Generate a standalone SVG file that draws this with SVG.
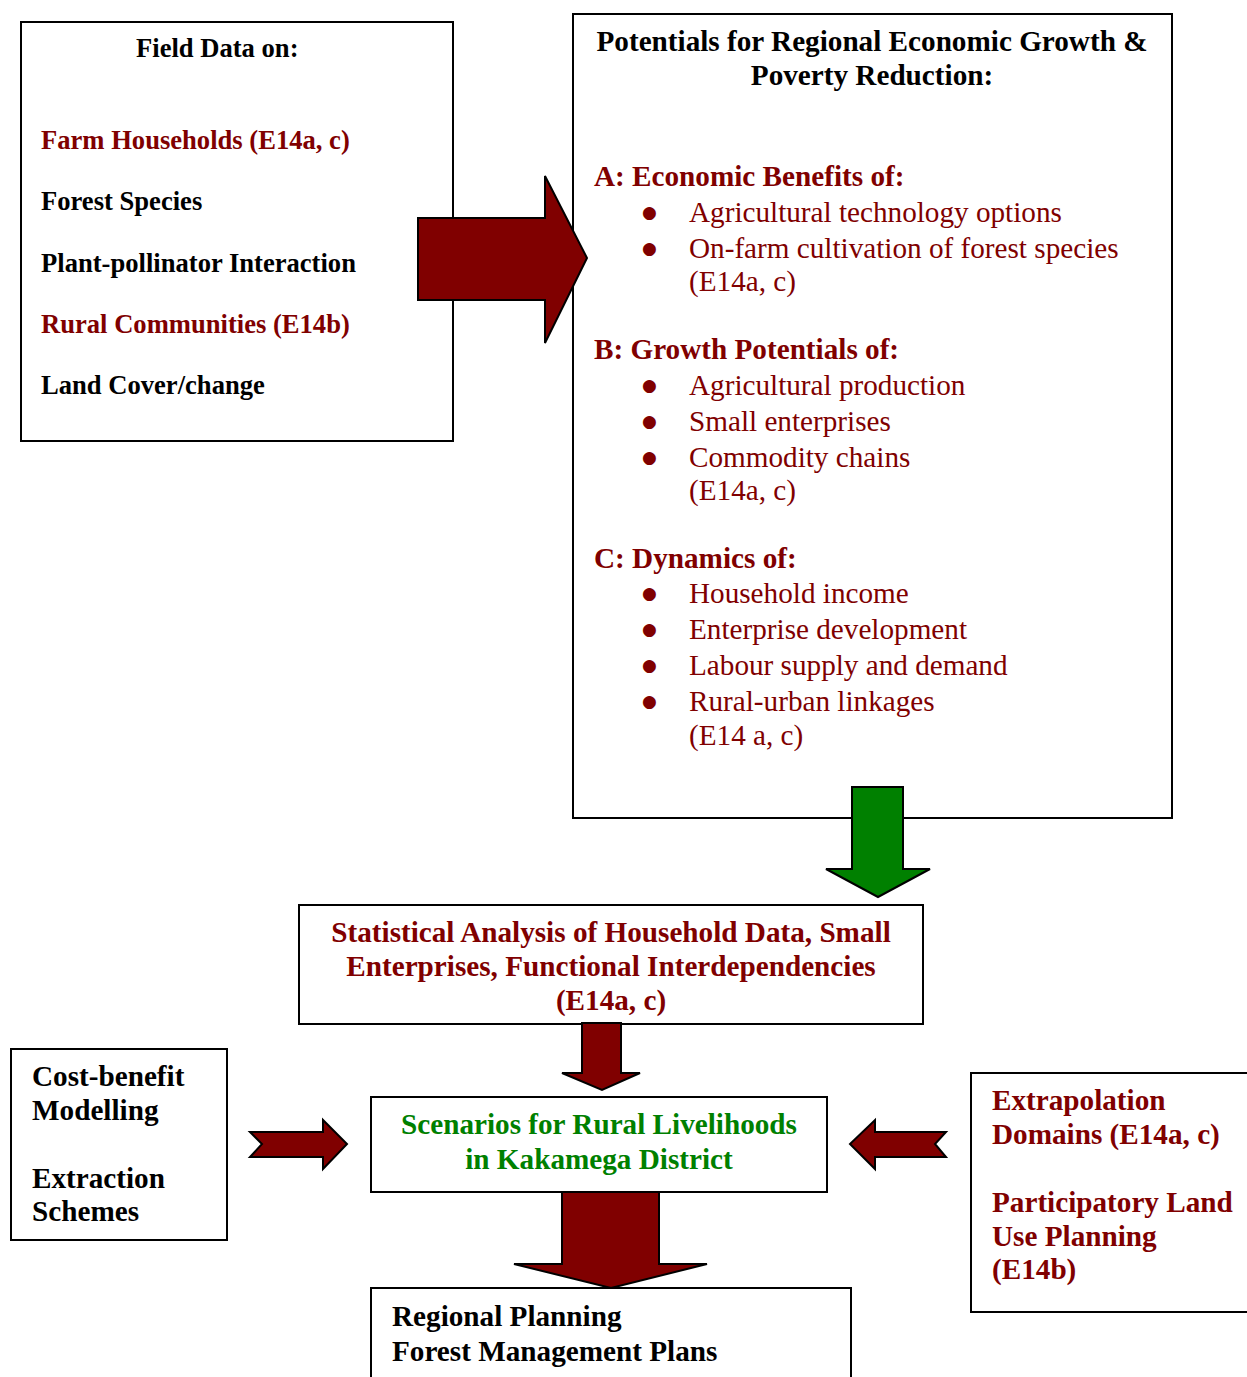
<svg xmlns="http://www.w3.org/2000/svg" width="1247" height="1377" viewBox="0 0 1247 1377">
<style>
.box{fill:#fff;stroke:#000;stroke-width:2}
.t{font-family:"Liberation Serif","Times New Roman",serif;font-size:29.2px}
.b{font-weight:bold}
.s{font-size:26.6px}
.bul{font-family:"DejaVu Sans",sans-serif;font-size:17px;fill:#800000}
.red{fill:#800000}
.blk{fill:#000}
.grn{fill:#008000}
.arr{fill:#800000;stroke:#000;stroke-width:2;stroke-linejoin:miter}
.garr{fill:#008000;stroke:#000;stroke-width:2}
</style>
<rect width="1247" height="1377" fill="#fff"/>
<g id="field-data">
<rect class="box" x="21" y="22" width="432" height="419"/>
<text class="t b s blk" x="136" y="57">Field Data on:</text>
<text class="t b s red" x="41" y="149">Farm Households (E14a, c)</text>
<text class="t b s blk" x="41" y="210">Forest Species</text>
<text class="t b s blk" x="41" y="272">Plant-pollinator Interaction</text>
<text class="t b s red" x="41" y="333">Rural Communities (E14b)</text>
<text class="t b s blk" x="41" y="394">Land Cover/change</text>
</g>
<g id="potentials">
<rect class="box" x="573" y="14" width="599" height="804"/>
<text class="t b blk" x="872" y="51" text-anchor="middle">Potentials for Regional Economic Growth &amp;</text>
<text class="t b blk" x="872" y="85" text-anchor="middle">Poverty Reduction:</text>
<text class="t b red" x="594" y="186">A: Economic Benefits of:</text>
<text class="bul" x="642" y="218">●</text>
<text class="t red" x="689" y="222">Agricultural technology options</text>
<text class="bul" x="642" y="254">●</text>
<text class="t red" x="689" y="258">On-farm cultivation of forest species</text>
<text class="t red" x="689" y="291">(E14a, c)</text>
<text class="t b red" x="594" y="359">B: Growth Potentials of:</text>
<text class="bul" x="642" y="391">●</text>
<text class="t red" x="689" y="395">Agricultural production</text>
<text class="bul" x="642" y="427">●</text>
<text class="t red" x="689" y="431">Small enterprises</text>
<text class="bul" x="642" y="463">●</text>
<text class="t red" x="689" y="467">Commodity chains</text>
<text class="t red" x="689" y="500">(E14a, c)</text>
<text class="t b red" x="594" y="568">C: Dynamics of:</text>
<text class="bul" x="642" y="599">●</text>
<text class="t red" x="689" y="603">Household income</text>
<text class="bul" x="642" y="635">●</text>
<text class="t red" x="689" y="639">Enterprise development</text>
<text class="bul" x="642" y="671">●</text>
<text class="t red" x="689" y="675">Labour supply and demand</text>
<text class="bul" x="642" y="707">●</text>
<text class="t red" x="689" y="711">Rural-urban linkages</text>
<text class="t red" x="689" y="745">(E14 a, c)</text>
</g>
<g id="statistical">
<rect class="box" x="299" y="905" width="624" height="119"/>
<text class="t b red" x="611" y="942" text-anchor="middle">Statistical Analysis of Household Data, Small</text>
<text class="t b red" x="611" y="976" text-anchor="middle">Enterprises, Functional Interdependencies</text>
<text class="t b red" x="611" y="1010" text-anchor="middle">(E14a, c)</text>
</g>
<g id="cost-benefit">
<rect class="box" x="11" y="1049" width="216" height="191"/>
<text class="t b blk" x="32" y="1086">Cost-benefit</text>
<text class="t b blk" x="32" y="1120">Modelling</text>
<text class="t b blk" x="32" y="1188">Extraction</text>
<text class="t b blk" x="32" y="1221">Schemes</text>
</g>
<g id="scenarios">
<rect class="box" x="371" y="1097" width="456" height="95"/>
<text class="t b grn" x="599" y="1134" text-anchor="middle">Scenarios for Rural Livelihoods</text>
<text class="t b grn" x="599" y="1169" text-anchor="middle">in Kakamega District</text>
</g>
<g id="extrapolation">
<rect class="box" x="971" y="1073" width="290" height="239"/>
<text class="t b red" x="992" y="1110">Extrapolation</text>
<text class="t b red" x="992" y="1144">Domains (E14a, c)</text>
<text class="t b red" x="992" y="1212">Participatory Land</text>
<text class="t b red" x="992" y="1246">Use Planning</text>
<text class="t b red" x="992" y="1279">(E14b)</text>
</g>
<g id="planning">
<rect class="box" x="371" y="1288" width="480" height="120"/>
<text class="t b blk" x="392" y="1326">Regional Planning</text>
<text class="t b blk" x="392" y="1361">Forest Management Plans</text>
</g>
<g id="connectors">
<polygon class="arr" points="418,218 545,218 545,176 587,258 545,343 545,300 418,300"/>
<polygon class="garr" points="852,787 903,787 903,869 930,869 878,897 826,869 852,869"/>
<polygon class="arr" points="582,1023 621,1023 621,1073 640,1073 602,1090 562,1073 582,1073"/>
<polygon class="arr" points="562,1192 659,1192 659,1264 707,1264 611,1288 514,1264 562,1264"/>
<polygon class="arr" points="250,1132 323,1132 323,1120 347,1144 323,1169 323,1157 250,1157 262,1144"/>
<polygon class="arr" points="946,1132 875,1132 875,1120 850,1144 875,1169 875,1157 946,1157 935,1144"/>
</g>
</svg>
